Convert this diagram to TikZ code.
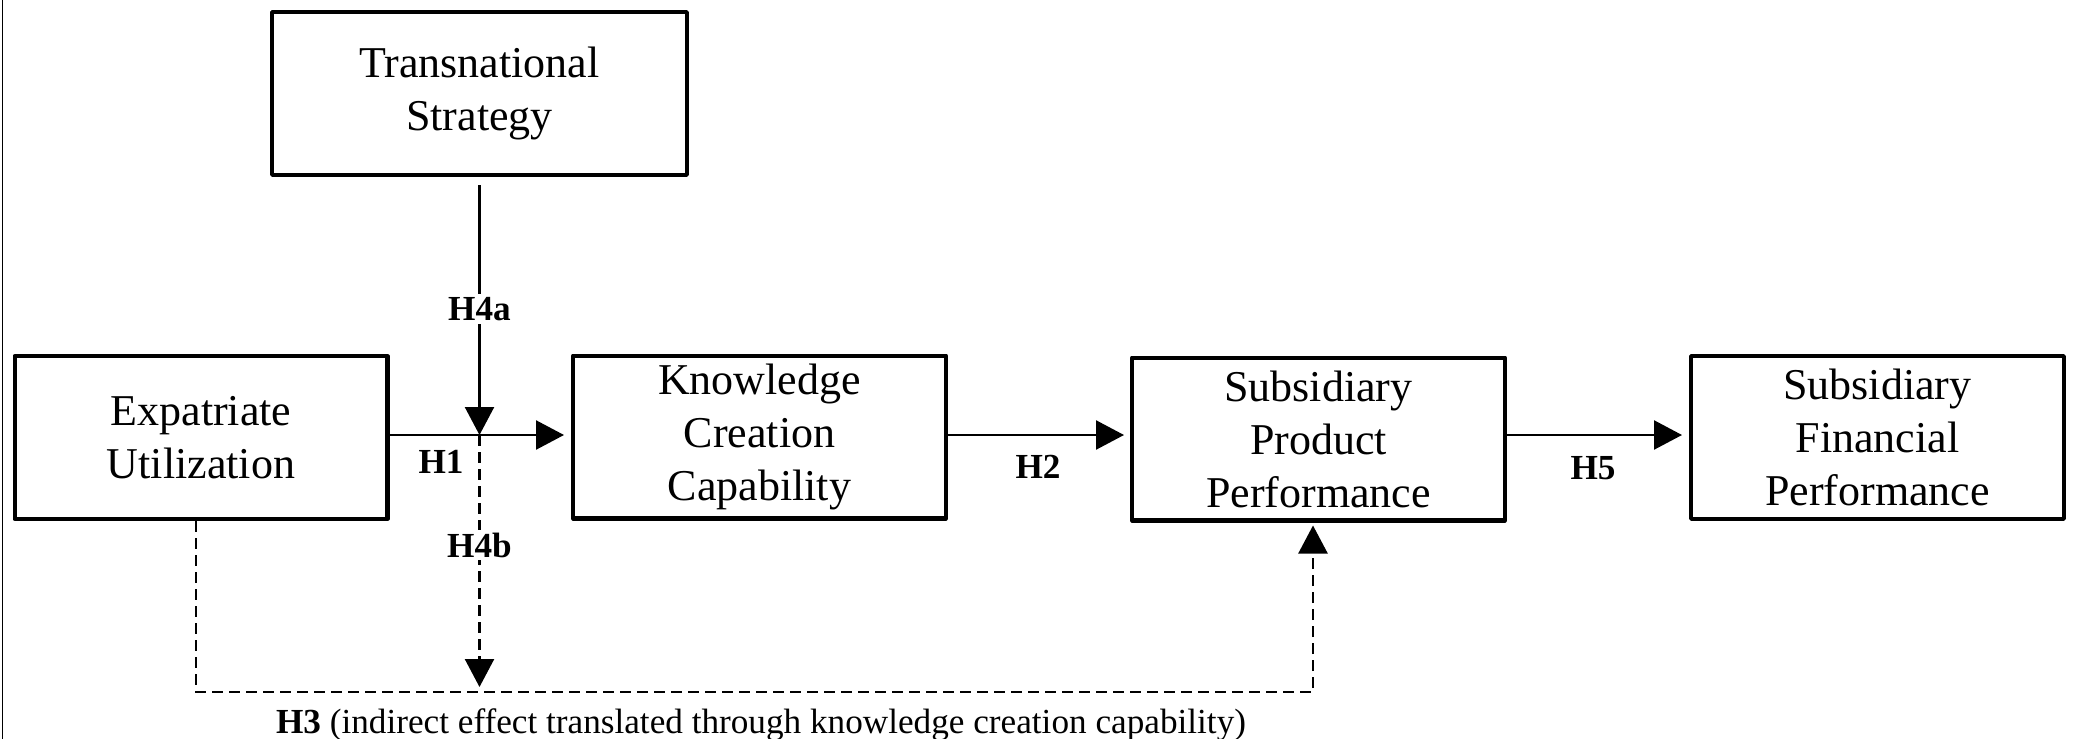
\documentclass[tikz,border=0pt]{standalone}
\usepackage{fontspec}
\setmainfont{Liberation Serif}
\usetikzlibrary{arrows.meta}
\begin{document}
\begin{tikzpicture}[x=0.5pt,y=-0.5pt,
  box/.style={draw, line width=2.2pt, minimum width=186.3pt, minimum height=81.3pt,
    align=center, font=\fontsize{22}{26.5}\selectfont, inner sep=0pt, line join=round},
  lab/.style={font=\fontsize{17.6}{20}\selectfont\bfseries, inner sep=1.5pt},
  conn/.style={line width=1.2pt, -{Triangle[length=14pt,width=14.5pt]}},
  dashline/.style={dash pattern=on 5.5pt off 3pt},
  frameline/.style={line width=0.7pt, black}
]
\useasboundingbox (0,0) rectangle (2073,739);
\coordinate (FT) at (2.5,0);
\coordinate (FB) at (2.5,739);
\draw[frameline] (FT) -- (FB);

\node[box, minimum width=207.3pt] (TS) at (479.5,93.5) {Transnational\\Strategy};
\node[box] (EU) at (201,437.5) {Expatriate\\Utilization};
\node[box] (KC) at (759.5,437) {Knowledge\\Creation\\Capability};
\node[box] (SP) at (1318.5,439) {Subsidiary\\Product\\Performance};
\node[box] (FP) at (1877.5,437.5) {Subsidiary\\Financial\\Performance};

\coordinate (J) at (479.5,435);
\coordinate (H4bEnd) at (479.5,687);
\coordinate (BL) at (196,692);
\coordinate (BR) at (1313,692);

\draw[conn, shorten >=3.5pt] (EU.east |- J) -- (KC.west |- J);
\draw[conn, shorten <=4pt] (TS.south) -- (J);
\draw[conn, dashline] (J) -- (H4bEnd);
\draw[conn, shorten >=3pt] (KC.east |- J) -- (SP.west |- J);
\draw[conn, shorten >=3.5pt] (SP.east |- J) -- (FP.west |- J);
\draw[conn, dashline, shorten >=1.5pt] (EU.south -| BL) -- (BL) -- (BR) -- (SP.south -| BR);

\node[lab, fill=white] (H4a) at (479.5,309) {H4a};
\node[lab, fill=white] (H4b) at (479.5,545) {H4b};
\node[lab] (H1) at (441,462) {H1};
\node[lab] (H2) at (1038,467) {H2};
\node[lab] (H5) at (1593,468) {H5};
\node[font=\fontsize{17.6}{20}\selectfont, anchor=base, inner sep=0pt] (H3) at (761,733)
  {\textbf{H3} (indirect effect translated through knowledge creation capability)};
\end{tikzpicture}
\end{document}
